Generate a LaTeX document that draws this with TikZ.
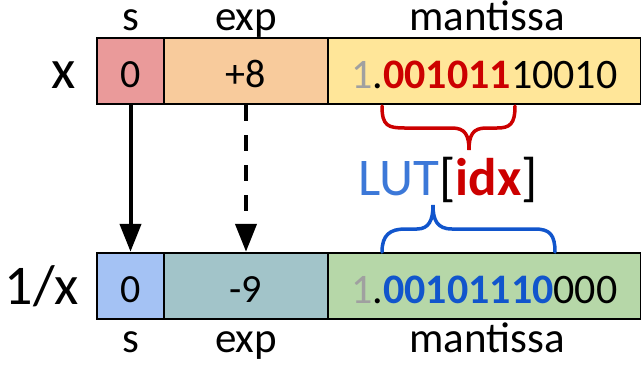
\documentclass[tikz,border=0pt]{standalone}
\usepackage{fontspec}
\setmainfont{Carlito}
\usetikzlibrary{arrows.meta}
\definecolor{sred}{HTML}{EA9A9A}
\definecolor{sorange}{HTML}{F8CB9C}
\definecolor{syellow}{HTML}{FFE699}
\definecolor{sblue}{HTML}{A4C2F4}
\definecolor{steal}{HTML}{A2C4C9}
\definecolor{sgreen}{HTML}{B6D7A8}
\definecolor{dred}{HTML}{CC0000}
\definecolor{dblue}{HTML}{1155CC}
\definecolor{lblue}{HTML}{3C78D8}
\definecolor{lgray}{HTML}{A0A0A0}
\begin{document}
\begin{tikzpicture}[x=1pt,y=-1pt,
  field/.style={draw=black, line width=2.4pt, inner sep=0pt, minimum height=66pt, text height=33pt, text depth=0pt, font=\fontsize{40}{40}\selectfont},
  mfield/.style={field, font=\fontsize{42}{42}\selectfont, text height=34pt},
  lbl/.style={inner sep=0pt, anchor=base, text height=27pt, font=\fontsize{43}{43}\selectfont},
  rowlbl/.style={inner sep=0pt, anchor=base, font=\fontsize{56}{56}\selectfont},
  arr/.style={line width=4pt, -{Triangle[length=28pt,width=21pt]}},
  brace/.style={line width=3.5pt, line cap=round}]
\useasboundingbox (0,0) rectangle (641,365);
% top row
\node[field, fill=sred, minimum width=67pt] (xs) at (130.5,71) {0};
\node[field, fill=sorange, minimum width=164pt] (xe) at (246,71) {+8};
\node[mfield, fill=syellow, minimum width=313pt] (xm) at (484.5,71) {{\color{lgray}1}.{\color{dred}\bfseries 001011}10010};
% bottom row
\node[field, fill=sblue, minimum width=67pt] (ys) at (130.5,286) {0};
\node[field, fill=steal, minimum width=164pt] (ye) at (246,286) {-9};
\node[mfield, fill=sgreen, minimum width=313pt] (ym) at (484.5,286) {{\color{lgray}1}.{\color{dblue}\bfseries 00101110}000};
% labels
\node[lbl] (ls1) at (131,30) {s};
\node[lbl] (le1) at (246,30) {exp};
\node[lbl] (lm1) at (487,30) {mantissa};
\node[lbl] (ls2) at (131,352) {s};
\node[lbl] (le2) at (246,352) {exp};
\node[lbl] (lm2) at (487,352) {mantissa};
\node[rowlbl] (rx) at (64,88) {x};
\node[rowlbl] (rinv) at (42,304) {1/x};
% arrows
\draw[arr] (xs.south) -- (ys.north);
\draw[arr, dash pattern=on 16pt off 14pt] (xe.south) -- (ye.north);
% LUT text
\node[inner sep=0pt, anchor=base, font=\fontsize{53}{53}\selectfont] (lut) at (448,195) {{\color{lblue}LUT}[{\color{dred}\bfseries idx}]};
% red brace
\coordinate (rb1) at (382,106);
\coordinate (rb2) at (515,106);
\coordinate (rbt) at (469,150);
\draw[brace, dred] (rb1) .. controls (382,126) and (388,128) .. (405,128) -- (452,128) .. controls (465,128) and (469,135) .. (rbt)
  .. controls (469,135) and (473,128) .. (486,128) -- (497,128) .. controls (510,128) and (515,124) .. (rb2);
% blue brace
\coordinate (bb1) at (382,252);
\coordinate (bb2) at (555,252);
\coordinate (bbt) at (433,205);
\draw[brace, dblue] (bb1) .. controls (382,235) and (390,229) .. (405,229) -- (417,229) .. controls (429,229) and (433,220) .. (bbt)
  .. controls (433,220) and (437,229) .. (452,229) -- (535,229) .. controls (550,229) and (555,235) .. (bb2);
\end{tikzpicture}
\end{document}
